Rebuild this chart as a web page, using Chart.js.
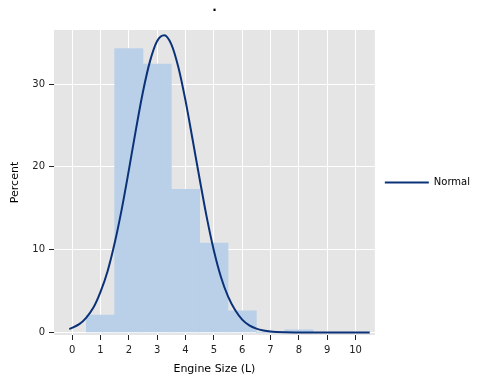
<!DOCTYPE html>
<html>
<head>
<meta charset="utf-8">
<script src="https://cdn.jsdelivr.net/npm/chart.js@4/dist/chart.umd.min.js"></script>
<style>
  html, body { margin: 0; padding: 0; background: #fff; }
  #wrap { width: 480px; height: 384px; position: relative; }
</style>
</head>
<body>
<div id="wrap"><canvas id="c"></canvas></div>
<script>
// Histogram bins (centers, width 1 L) and percent of observations
const binCenters = [1, 2, 3, 4, 5, 6, 7, 8];
const binPercents = [2.1, 34.3, 32.4, 17.3, 10.8, 2.6, 0, 0.3];

// Fitted normal curve
const curveX = [-0.1, 0.25, 0.5, 0.75, 1, 1.25, 1.5, 1.75, 2, 2.25, 2.5, 2.75, 3, 3.25, 3.5, 3.75, 4, 4.25, 4.5, 4.75, 5, 5.25, 5.5, 5.75, 6, 6.25, 6.5, 6.75, 7, 7.5, 8, 9, 10, 10.5];
const curveY = [0.4, 1.0, 1.8, 3.0, 4.9, 7.4, 10.8, 14.9, 19.6, 24.5, 29.1, 32.8, 35.2, 35.9, 34.8, 32.0, 28.0, 23.3, 18.5, 13.9, 9.9, 6.7, 4.35, 2.7, 1.55, 0.86, 0.46, 0.23, 0.11, 0.02, 0.0, 0.0, 0.0, 0.0];

// Axis ticks
const xTicks = [0, 1, 2, 3, 4, 5, 6, 7, 8, 9, 10];
const yTicks = [0, 10, 20, 30];

const FONT = 'DejaVu Sans';

const plotBg = {
  id: 'plotBg',
  beforeDraw(chart) {
    const a = chart.chartArea;
    const ctx = chart.ctx;
    ctx.save();
    ctx.fillStyle = '#e5e5e5';
    ctx.fillRect(a.left, a.top, a.right - a.left, a.bottom - a.top);
    ctx.restore();
  }
};

new Chart(document.getElementById('c'), {
  type: 'bar',
  data: {
    datasets: [
      {
        type: 'line',
        label: 'Normal',
        data: curveX.map((x, i) => ({ x: x, y: curveY[i] })),
        borderColor: '#0b3279',
        backgroundColor: '#0b3279',
        borderWidth: 2,
        pointRadius: 0,
        fill: false,
        cubicInterpolationMode: 'monotone'
      },
      {
        type: 'bar',
        label: 'Histogram',
        data: binCenters.map((x, i) => ({ x: x, y: binPercents[i] })),
        backgroundColor: '#b9d0e8',
        borderWidth: 0,
        barPercentage: 1,
        categoryPercentage: 1
      }
    ]
  },
  options: {
    responsive: true,
    maintainAspectRatio: false,
    animation: false,
    layout: { padding: 0 },
    plugins: {
      title: {
        display: true,
        text: '.',
        fullSize: false,
        color: '#000',
        font: { family: FONT, size: 12, weight: 'bold' },
        padding: { top: 1, bottom: 14.6 }
      },
      legend: {
        display: true,
        position: 'right',
        fullSize: false,
        labels: {
          color: '#000',
          font: { family: FONT, size: 10 },
          usePointStyle: true,
          pointStyle: 'line',
          pointStyleWidth: 44,
          padding: 10,
          filter: (item) => item.datasetIndex === 0
        }
      },
      tooltip: { enabled: false }
    },
    scales: {
      x: {
        type: 'linear',
        offset: false,
        min: -0.64,
        max: 10.68,
        afterBuildTicks: (s) => { s.ticks = xTicks.map(v => ({ value: v })); },
        ticks: { color: '#222', font: { family: FONT, size: 10 }, padding: 4, autoSkip: false, maxRotation: 0 },
        grid: { color: '#ffffff', lineWidth: 1, tickColor: '#222', tickLength: 5, offset: false },
        border: { display: false },
        title: {
          display: true,
          text: 'Engine Size (L)',
          color: '#000',
          font: { family: FONT, size: 11 },
          padding: { top: 2.4, bottom: 8.4 }
        }
      },
      y: {
        type: 'linear',
        min: -0.31,
        max: 36.53,
        afterBuildTicks: (s) => { s.ticks = yTicks.map(v => ({ value: v })); },
        ticks: { color: '#222', font: { family: FONT, size: 10 }, padding: 4 },
        grid: { color: '#ffffff', lineWidth: 1, tickColor: '#222', tickLength: 5 },
        border: { display: false },
        title: {
          display: true,
          text: 'Percent',
          color: '#000',
          font: { family: FONT, size: 11 },
          padding: { top: 8.4, bottom: 6.7 }
        }
      }
    }
  },
  plugins: [plotBg]
});
</script>
</body>
</html>
